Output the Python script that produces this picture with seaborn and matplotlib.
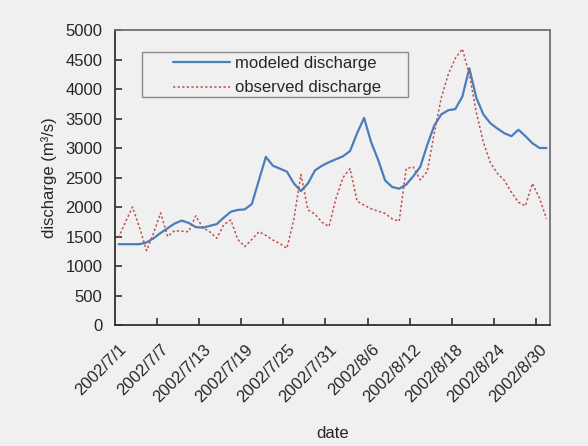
import pandas as pd
import seaborn as sns
import matplotlib.pyplot as plt
from matplotlib.patches import Rectangle
from matplotlib.legend_handler import HandlerLine2D
from matplotlib.ticker import FixedLocator

# daily discharge, 2002/7/1 .. 2002/8/31 (m3/s)
modeled = [1370, 1370, 1370, 1370, 1400, 1470, 1560, 1640, 1720, 1770,
           1730, 1660, 1650, 1680, 1710, 1820, 1920, 1950, 1960, 2050,
           2450, 2850, 2700, 2650, 2600, 2400, 2270, 2400, 2620, 2700,
           2760, 2810, 2860, 2950, 3250, 3510, 3100, 2800, 2450, 2340,
           2310, 2380, 2520, 2680, 3050, 3380, 3570, 3640, 3660, 3870,
           4350, 3850, 3570, 3420, 3330, 3250, 3200, 3310, 3200, 3080,
           3000, 3000]
observed = [1480, 1750, 2000, 1650, 1260, 1560, 1900, 1500, 1600, 1590,
            1580, 1850, 1650, 1580, 1470, 1700, 1780, 1450, 1330, 1450,
            1580, 1520, 1440, 1380, 1300, 1800, 2550, 1950, 1880, 1740,
            1670, 2150, 2500, 2650, 2100, 2030, 1970, 1930, 1890, 1800,
            1760, 2650, 2680, 2460, 2600, 3250, 3850, 4250, 4520, 4680,
            4250, 3600, 3100, 2750, 2570, 2450, 2250, 2080, 2020, 2400,
            2150, 1800]
tick_labels = ['2002/7/1', '2002/7/7', '2002/7/13', '2002/7/19', '2002/7/25',
               '2002/7/31', '2002/8/6', '2002/8/12', '2002/8/18', '2002/8/24',
               '2002/8/30']

df = pd.DataFrame({'day': range(len(modeled)), 'modeled': modeled,
                   'observed': observed})

sns.set_theme(style='white')
plt.rcParams['font.family'] = ['Liberation Sans', 'DejaVu Sans']
bg = '#f0f0f0'
fs = 12

fig = plt.figure(figsize=(5.88, 4.46), dpi=100, facecolor=bg)
ax = fig.add_axes([0.1956, 0.2713, 0.7398, 0.6614], facecolor=bg)

sns.lineplot(data=df, x='day', y='modeled', color='#4a7ebb', lw=1.6,
             label='modeled discharge', ax=ax)
sns.lineplot(data=df, x='day', y='observed', color='#c0504d', lw=1.1,
             linestyle=(0, (1.5, 1.5)), label='observed discharge', ax=ax)

n = len(modeled)
ax.set_xlim(-0.5, n - 0.5)
ax.set_ylim(0, 5000)
ax.set_yticks(range(0, 5001, 500))
ax.set_xticks(range(0, n, 6))
ax.set_xticklabels(tick_labels, rotation=45, ha='right', rotation_mode='anchor')
ax.xaxis.set_minor_locator(FixedLocator([i + 5.5 for i in range(0, n - 6, 6)]))
ax.tick_params(axis='x', which='major', length=0, pad=12, labelsize=fs)
ax.tick_params(axis='x', which='minor', direction='in', length=5, width=1.2,
               color='#303030', bottom=True)
ax.tick_params(axis='y', direction='in', length=5, width=1.2, color='#303030',
               pad=9, labelsize=fs, left=True)
for s in ax.spines.values():
    s.set_color('#303030')
    s.set_linewidth(1.3)
ax.spines['top'].set_color('#707070')
ax.spines['right'].set_color('#707070')

ax.set_xlabel('date', fontsize=fs, labelpad=15)
ax.set_ylabel('discharge (m³/s)', fontsize=fs, labelpad=6)

# legend: frameless entries inside a plain grey box
ax.add_patch(Rectangle((0.062, 0.773), 0.6115, 0.1525, transform=ax.transAxes,
                       facecolor=bg, edgecolor='#8a8a8a', lw=1.0, zorder=3))
leg = ax.legend(loc='upper left', bbox_to_anchor=(0.062, 0.925), fontsize=fs,
                handlelength=5.05, frameon=False, borderpad=0.25,
                borderaxespad=0, labelspacing=0.55, handletextpad=0.3,
                handler_map={plt.Line2D: HandlerLine2D(xpad=1.6)})
leg.set_zorder(4)

fig.savefig('out.png', dpi=100, facecolor=bg)
